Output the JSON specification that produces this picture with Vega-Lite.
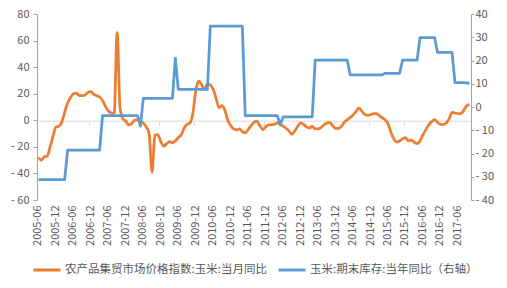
{
"$schema":"https://vega.github.io/schema/vega-lite/v6.json",
"width":434,"height":186,
"autosize":{"type":"none"},
"padding":{"left":37,"top":14,"right":36,"bottom":88},
"background":"white",
"config":{"view":{"stroke":null},"font":"Noto Sans CJK SC","axis":{"labelFont":"Noto Sans CJK SC","labelColor":"#595959","labelFontSize":11,"grid":false,"title":null}},
"data":{"values":[
{"d":"2005-06","a":-28,"b":-31.2},{"d":"2005-07","a":-30,"b":-31.2},{"d":"2005-08","a":-27.5,"b":-31.2},{"d":"2005-09","a":-27,"b":-31.2},{"d":"2005-10","a":-20,"b":-31.2},{"d":"2005-11","a":-12,"b":-31.2},{"d":"2005-12","a":-5,"b":-31.2},
{"d":"2006-01","a":-4.5,"b":-31.2},{"d":"2006-02","a":-1.5,"b":-31.2},{"d":"2006-03","a":6,"b":-31.2},{"d":"2006-04","a":13,"b":-18.5},{"d":"2006-05","a":17,"b":-18.5},{"d":"2006-06","a":20,"b":-18.5},{"d":"2006-07","a":20.5,"b":-18.5},{"d":"2006-08","a":18.7,"b":-18.5},{"d":"2006-09","a":18.5,"b":-18.5},{"d":"2006-10","a":19,"b":-18.5},{"d":"2006-11","a":21,"b":-18.5},{"d":"2006-12","a":21.5,"b":-18.5},
{"d":"2007-01","a":19.5,"b":-18.5},{"d":"2007-02","a":18.5,"b":-18.5},{"d":"2007-03","a":17.5,"b":-18.5},{"d":"2007-04","a":15,"b":-3.7},{"d":"2007-05","a":10.5,"b":-3.7},{"d":"2007-06","a":7,"b":-3.7},{"d":"2007-07","a":5.5,"b":-3.7},{"d":"2007-08","a":5,"b":-3.7},{"d":"2007-09","a":66,"b":-3.7},{"d":"2007-10","a":10,"b":-3.7},{"d":"2007-11","a":1,"b":-3.7},{"d":"2007-12","a":-0.5,"b":-3.7},
{"d":"2008-01","a":-3.5,"b":-3.7},{"d":"2008-02","a":-2.5,"b":-3.7},{"d":"2008-03","a":0,"b":-3.7},{"d":"2008-04","a":0.5,"b":-3.7},{"d":"2008-05","a":-0.7,"b":-8.2},{"d":"2008-06","a":-2,"b":3.7},{"d":"2008-07","a":-5,"b":3.7},{"d":"2008-08","a":-10,"b":3.7},{"d":"2008-09","a":-39,"b":3.7},{"d":"2008-10","a":-11,"b":3.7},{"d":"2008-11","a":-11,"b":3.7},{"d":"2008-12","a":-16,"b":3.7},
{"d":"2009-01","a":-19.5,"b":3.7},{"d":"2009-02","a":-17.6,"b":3.7},{"d":"2009-03","a":-16,"b":3.7},{"d":"2009-04","a":-17,"b":3.7},{"d":"2009-05","a":-15.5,"b":21},{"d":"2009-06","a":-13,"b":7.6},{"d":"2009-07","a":-11,"b":7.6},{"d":"2009-08","a":-6,"b":7.6},{"d":"2009-09","a":-3,"b":7.6},{"d":"2009-10","a":-2,"b":7.6},{"d":"2009-11","a":5,"b":7.6},{"d":"2009-12","a":22,"b":7.6},
{"d":"2010-01","a":29.5,"b":7.6},{"d":"2010-02","a":27,"b":7.6},{"d":"2010-03","a":23,"b":7.6},{"d":"2010-04","a":27.5,"b":7.6},{"d":"2010-05","a":26.5,"b":34.8},{"d":"2010-06","a":23.2,"b":34.8},{"d":"2010-07","a":16.5,"b":34.8},{"d":"2010-08","a":9.5,"b":34.8},{"d":"2010-09","a":11,"b":34.8},{"d":"2010-10","a":7.5,"b":34.8},{"d":"2010-11","a":0,"b":34.8},{"d":"2010-12","a":-4,"b":34.8},
{"d":"2011-01","a":-6.5,"b":34.8},{"d":"2011-02","a":-7.2,"b":34.8},{"d":"2011-03","a":-6.5,"b":34.8},{"d":"2011-04","a":-8.5,"b":34.8},{"d":"2011-05","a":-9.5,"b":-3.7},{"d":"2011-06","a":-7,"b":-3.7},{"d":"2011-07","a":-4,"b":-3.7},{"d":"2011-08","a":-1.5,"b":-3.7},{"d":"2011-09","a":-0.7,"b":-3.7},{"d":"2011-10","a":-4,"b":-3.7},{"d":"2011-11","a":-7,"b":-3.7},{"d":"2011-12","a":-5,"b":-3.7},
{"d":"2012-01","a":-3.5,"b":-3.7},{"d":"2012-02","a":-3.3,"b":-3.7},{"d":"2012-03","a":-3,"b":-3.7},{"d":"2012-04","a":-2,"b":-3.7},{"d":"2012-05","a":-3,"b":-7.7},{"d":"2012-06","a":-4.5,"b":-4.2},{"d":"2012-07","a":-6,"b":-4.2},{"d":"2012-08","a":-8,"b":-4.2},{"d":"2012-09","a":-10.5,"b":-4.2},{"d":"2012-10","a":-8,"b":-4.2},{"d":"2012-11","a":-4.5,"b":-4.2},{"d":"2012-12","a":-2,"b":-4.2},
{"d":"2013-01","a":-3,"b":-4.2},{"d":"2013-02","a":-5,"b":-4.2},{"d":"2013-03","a":-5.8,"b":-4.2},{"d":"2013-04","a":-4.5,"b":-4.2},{"d":"2013-05","a":-6.5,"b":20.2},{"d":"2013-06","a":-6.5,"b":20.2},{"d":"2013-07","a":-5.5,"b":20.2},{"d":"2013-08","a":-3.5,"b":20.2},{"d":"2013-09","a":-2,"b":20.2},{"d":"2013-10","a":-1.5,"b":20.2},{"d":"2013-11","a":-4,"b":20.2},{"d":"2013-12","a":-6,"b":20.2},
{"d":"2014-01","a":-6,"b":20.2},{"d":"2014-02","a":-4.5,"b":20.2},{"d":"2014-03","a":-1.5,"b":20.2},{"d":"2014-04","a":0.5,"b":20.2},{"d":"2014-05","a":2,"b":13.8},{"d":"2014-06","a":4,"b":13.8},{"d":"2014-07","a":6.5,"b":13.8},{"d":"2014-08","a":9.4,"b":13.8},{"d":"2014-09","a":7,"b":13.8},{"d":"2014-10","a":4.5,"b":13.8},{"d":"2014-11","a":3.8,"b":13.8},{"d":"2014-12","a":4.2,"b":13.8},
{"d":"2015-01","a":5,"b":13.8},{"d":"2015-02","a":5,"b":13.8},{"d":"2015-03","a":3.5,"b":13.8},{"d":"2015-04","a":1.8,"b":13.8},{"d":"2015-05","a":0.5,"b":14.5},{"d":"2015-06","a":-2.5,"b":14.5},{"d":"2015-07","a":-9,"b":14.5},{"d":"2015-08","a":-14,"b":14.5},{"d":"2015-09","a":-16.5,"b":14.5},{"d":"2015-10","a":-15.5,"b":14.5},{"d":"2015-11","a":-14,"b":20.2},{"d":"2015-12","a":-13,"b":20.2},
{"d":"2016-01","a":-15.5,"b":20.2},{"d":"2016-02","a":-15,"b":20.2},{"d":"2016-03","a":-16.5,"b":20.2},{"d":"2016-04","a":-17.6,"b":20.2},{"d":"2016-05","a":-15.5,"b":29.8},{"d":"2016-06","a":-11,"b":29.8},{"d":"2016-07","a":-7,"b":29.8},{"d":"2016-08","a":-3.5,"b":29.8},{"d":"2016-09","a":-1,"b":29.8},{"d":"2016-10","a":0.5,"b":29.8},{"d":"2016-11","a":-1.5,"b":23.5},{"d":"2016-12","a":-3,"b":23.5},
{"d":"2017-01","a":-3,"b":23.5},{"d":"2017-02","a":-2,"b":23.5},{"d":"2017-03","a":1,"b":23.5},{"d":"2017-04","a":6,"b":23.5},{"d":"2017-05","a":5.5,"b":10.5},{"d":"2017-06","a":5,"b":10.5},{"d":"2017-07","a":5,"b":10.5},{"d":"2017-08","a":7.5,"b":10.5},{"d":"2017-09","a":11,"b":10.4},{"d":"2017-10","a":12,"b":10.2}
]},
"layer":[
{"mark":{"type":"line","strokeWidth":2.75,"strokeJoin":"round","interpolate":"monotone"},
 "encoding":{
  "x":{"field":"d","type":"ordinal","scale":{"type":"band","paddingInner":0,"paddingOuter":0},"bandPosition":0.5,
   "axis":{"orient":"bottom","values":["2005-06","2005-12","2006-06","2006-12","2007-06","2007-12","2008-06","2008-12","2009-06","2009-12","2010-06","2010-12","2011-06","2011-12","2012-06","2012-12","2013-06","2013-12","2014-06","2014-12","2015-06","2015-12","2016-06","2016-12","2017-06"],"labelAngle":-90,"ticks":false,"tickSize":0,"domain":false,"labelPadding":5,"bandPosition":0.5}},
  "y":{"field":"a","type":"quantitative","scale":{"domain":[-60,80],"nice":false,"zero":false},
   "axis":{"orient":"left","values":[-60,-40,-20,0,20,40,60,80],"domainColor":"#a6a6a6","tickColor":"#a6a6a6","tickSize":4,"labelPadding":4,"labelExpr":"datum.value < 0 ? '- ' + abs(datum.value) : datum.label"}},
  "color":{"datum":"农产品集贸市场价格指数:玉米:当月同比","type":"nominal",
   "scale":{"domain":["农产品集贸市场价格指数:玉米:当月同比","玉米:期末库存:当年同比（右轴）"],"range":["#ED7D31","#5B9BD5"]},
   "legend":{"orient":"none","legendX":-5,"legendY":241,"direction":"horizontal","title":null,"symbolType":"stroke","symbolStrokeWidth":3,"symbolSize":729,"labelFontSize":11.5,"labelColor":"#595959","labelFont":"Noto Sans CJK SC","labelLimit":400,"columnPadding":5,"labelOffset":3}}
 }},
{"mark":{"type":"line","strokeWidth":2.75,"strokeJoin":"round"},
 "encoding":{
  "x":{"field":"d","type":"ordinal","bandPosition":0.5,
   "axis":{"orient":"bottom","offset":-79.3,"values":["2005-12","2006-12","2007-12","2008-12","2009-12","2010-12","2011-12","2012-12","2013-12","2014-12","2015-12","2016-12"],"bandPosition":0,"labels":false,"ticks":true,"tickSize":4,"tickColor":"#d9d9d9","domain":true,"domainColor":"#d9d9d9"}},
  "y":{"field":"b","type":"quantitative","scale":{"domain":[-40,40],"nice":false,"zero":false},
   "axis":{"orient":"right","values":[-40,-30,-20,-10,0,10,20,30,40],"domainColor":"#a6a6a6","tickColor":"#a6a6a6","tickSize":3,"labelPadding":1,"labelExpr":"datum.value < 0 ? '- ' + abs(datum.value) : datum.label"}},
  "color":{"datum":"玉米:期末库存:当年同比（右轴）","type":"nominal"}
 }}
],
"resolve":{"scale":{"y":"independent"},"axis":{"x":"independent"}}
}
